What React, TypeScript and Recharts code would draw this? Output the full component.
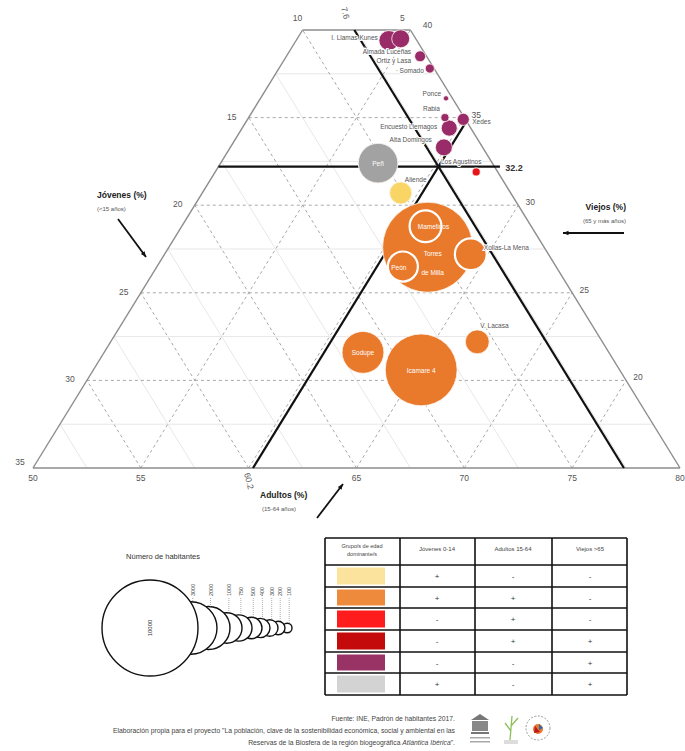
import React from "react";
import { ScatterChart, Scatter, XAxis, YAxis, ZAxis, ReferenceLine } from "recharts";

const FONT = '"Liberation Sans", Arial, sans-serif';

// localidades (orden de dibujo: de mayor a menor)
const localidades = [
  "Torres de Milla", "Icamare 4", "Peñ", "Sodupe", "Mamelinos", "Xollas-La Mena", "Peón",
  "V. Lacasa", "Aliende", "Llamas", "Kunes", "Almada Luceñas", "Alta Domingos",
  "Encuesto Liemagos", "Xedes", "Somado", "Rabia", "Los Agustinos", "Ponce",
];
const adultos = [62.0, 65.2, 57.3, 62.0, 61.3, 64.2, 61.4, 67.0, 59.2, 54.3, 54.8, 56.2, 59.9, 59.6, 60.0, 57.0, 59.1, 62.1, 58.6];
const viejos = [27.6, 20.6, 32.4, 21.6, 28.8, 27.2, 26.5, 22.2, 30.7, 39.4, 39.5, 38.5, 33.3, 34.4, 34.9, 37.8, 35.0, 31.9, 36.1];
const habitantes = [8800, 5600, 1700, 1900, 1100, 1100, 980, 620, 530, 430, 350, 130, 310, 280, 160, 90, 70, 70, 30];
const grupos = [
  "naranja", "naranja", "gris", "naranja", "naranja", "naranja", "naranja",
  "naranja", "amarillo", "morado", "morado", "morado", "morado",
  "morado", "morado", "morado", "morado", "rojo", "morado",
];

// umbrales (medias)
const umbralJovenes = 7.6;
const umbralAdultos = 60.2;
const umbralViejos = 32.2;

// etiquetas de los ejes
const ticksJovenes = [10, 15, 20, 25, 30, 35];
const ticksViejos = [40, 35, 30, 25, 20];
const ticksAdultos = [50, 55, 65, 70, 75, 80];

// leyenda
const leyendaHab = [10000, 3000, 2000, 1000, 750, 500, 400, 300, 200, 100];
const leyendaBordes = [198, 217, 230, 242, 252, 262, 270, 278, 285, 292];

// tabla
const tablaGrupos = ["amarillo", "naranja", "rojo", "granate", "morado", "gris"];
const tablaJovenes = ["+", "+", "-", "-", "-", "+"];
const tablaAdultos = ["-", "+", "+", "+", "-", "-"];
const tablaViejos = ["-", "-", "-", "+", "+", "+"];

const COLORES: Record<string, string> = {
  amarillo: "#f8d565",
  naranja: "#e97a2c",
  rojo: "#e8141a",
  granate: "#bf0d12",
  morado: "#9a2b69",
  gris: "#a2a2a2",
};
const TABLA_COLORES: Record<string, string> = {
  amarillo: "#fbe39e",
  naranja: "#ee8a3c",
  rojo: "#ff1c1c",
  granate: "#c40a0a",
  morado: "#993366",
  gris: "#d3d3d3",
};

const R_MAX = 48;
const CONTORNO_BLANCO = ["Mamelinos", "Xollas-La Mena", "Peón"];

const ETIQUETAS: Record<string, { lines: string[]; dx: number; dy: number; anchor: string; color: string; gap?: number }> = {
  "Torres de Milla": { lines: ["Torres", "de Milla"], dx: 5, dy: 9, anchor: "middle", color: "#fff", gap: 19 },
  "Icamare 4": { lines: ["Icamare 4"], dx: 0, dy: 3, anchor: "middle", color: "#fff" },
  "Peñ": { lines: ["Peñ"], dx: 0, dy: 3, anchor: "middle", color: "#fff" },
  "Sodupe": { lines: ["Sodupe"], dx: 0, dy: 3, anchor: "middle", color: "#fff" },
  "Mamelinos": { lines: ["Mamelinos"], dx: 8, dy: 3, anchor: "middle", color: "#fff" },
  "Peón": { lines: ["Peón"], dx: -4, dy: 3, anchor: "middle", color: "#fff" },
  "Xollas-La Mena": { lines: ["Xollas-La Mena"], dx: 13, dy: -4, anchor: "start", color: "#555" },
  "V. Lacasa": { lines: ["V. Lacasa"], dx: 3, dy: -14, anchor: "start", color: "#555" },
  "Aliende": { lines: ["Aliende"], dx: 15, dy: -11, anchor: "middle", color: "#555" },
  "Llamas": { lines: ["I. Llamas Kunes"], dx: -11, dy: -1, anchor: "end", color: "#555" },
  "Almada Luceñas": { lines: ["Almada Luceñas", "Ortiz y Lasa"], dx: -9, dy: -2, anchor: "end", color: "#555", gap: 9 },
  "Somado": { lines: ["· Somado"], dx: -6, dy: 4, anchor: "end", color: "#555" },
  "Ponce": { lines: ["Ponce"], dx: -5, dy: -2, anchor: "end", color: "#555" },
  "Rabia": { lines: ["Rabia"], dx: -5, dy: -7, anchor: "end", color: "#555" },
  "Encuesto Liemagos": { lines: ["Encuesto Liemagos"], dx: -12, dy: 1, anchor: "end", color: "#555" },
  "Alta Domingos": { lines: ["Alta Domingos"], dx: -12, dy: -5, anchor: "end", color: "#555" },
  "Xedes": { lines: ["Xedes"], dx: 9, dy: 5, anchor: "start", color: "#555" },
  "Los Agustinos": { lines: ["Los Agustinos"], dx: -15, dy: -8, anchor: "middle", color: "#555" },
};

// ternario -> cartesiano (u horizontal, v = % viejos)
const pt = (a: number, v: number) => ({ x: a + (v - 15) / 2, y: v });
const lineaV = (v: number) => [pt(50, v), pt(95 - v, v)];
const lineaA = (a: number) => (a <= 55 ? [pt(a, 15), pt(a, 40)] : [pt(a, 15), pt(a, 95 - a)]);
const lineaJ = (j: number) => (j >= 10 ? [pt(85 - j, 15), pt(50, 50 - j)] : [pt(85 - j, 15), pt(60 - j, 40)]);

const puntos = localidades.map((name, i) => ({
  name,
  hab: habitantes[i],
  grupo: grupos[i],
  u: pt(adultos[i], viejos[i]).x,
  v: viejos[i],
}));

const rango = (a: number, b: number, s: number) => {
  const out: number[] = [];
  for (let x = a; x <= b + 1e-9; x += s) out.push(x);
  return out;
};
const finas = rango(2.5, 40, 2.5).filter((x) => x % 5 !== 0);
const lineasFinas = [
  ...finas.filter((v) => v > 15 && v < 40).map(lineaV),
  ...finas.filter((a) => a > 50 && a < 80).map(lineaA),
  ...finas.filter((j) => j > 5 && j < 35).map(lineaJ),
];
const lineasDiscontinuas = [
  ...[20, 25, 30, 35].map(lineaV),
  ...[55, 60, 65, 70, 75].map(lineaA),
  ...[10, 15, 20, 25, 30].map(lineaJ),
];
const bordes = [lineaV(15), lineaV(40), lineaA(50), lineaJ(5)];

type Tick = { u: number; v: number; text: string; dx: number; dy: number; rot?: number; bold?: boolean; size?: number };
const ticks: Tick[] = [
  ...ticksJovenes.map((j, i) => {
    const p = pt(50, 50 - j);
    const dx = i === 0 ? -5 : i === ticksJovenes.length - 1 ? -13 : -17;
    const dy = i === 0 ? -9 : i === ticksJovenes.length - 1 ? -3 : 2;
    return { u: p.x, v: p.y, text: String(j), dx, dy };
  }),
  ...ticksViejos.map((v, i) => {
    const p = pt(95 - v, v);
    return { u: p.x, v: p.y, text: String(v), dx: i === 0 ? 17 : 12, dy: i === 0 ? -2 : 0 };
  }),
  ...ticksAdultos.map((a) => ({ u: pt(a, 15).x, v: 15, text: String(a), dx: 0, dy: 13 })),
  { u: pt(95 - 40, 40).x, v: 40, text: "5", dx: -8, dy: -9 },
  { u: pt(100 - umbralJovenes - 40, 40).x, v: 40, text: String(umbralJovenes), dx: -9, dy: -14, rot: 75 },
  { u: pt(umbralAdultos, 15).x, v: 15, text: String(umbralAdultos), dx: -4, dy: 16, rot: 75 },
  { u: pt(71.65 - (umbralViejos - 15) / 2, umbralViejos).x, v: umbralViejos, text: String(umbralViejos), dx: 14, dy: 4, bold: true, size: 9 },
];

const Burbuja = (props: any) => {
  const { cx, cy, width, payload } = props;
  if (cx == null || cy == null) return null;
  const r = (width || 0) / 2;
  const blanco = CONTORNO_BLANCO.includes(payload.name);
  return (
    <circle
      cx={cx}
      cy={cy}
      r={r}
      fill={COLORES[payload.grupo]}
      stroke={blanco ? "#fff" : "#fdf6f0"}
      strokeWidth={blanco ? 2.2 : 0.8}
    />
  );
};

const Etiqueta = (props: any) => {
  const { cx, cy, payload } = props;
  const e = ETIQUETAS[payload.name];
  if (!e || cx == null) return null;
  const dark = e.color !== "#fff";
  return (
    <text
      x={cx + e.dx}
      y={cy + e.dy}
      textAnchor={e.anchor as any}
      fontSize={6.5}
      fontFamily={FONT}
      fill={e.color}
      stroke={dark ? "#fff" : "none"}
      strokeWidth={dark ? 2 : 0}
      style={{ paintOrder: "stroke" }}
    >
      {e.lines.map((l, i) => (
        <tspan key={i} x={cx + e.dx} dy={i === 0 ? 0 : e.gap ?? 8}>
          {l}
        </tspan>
      ))}
    </text>
  );
};

const TickLabel = (props: any) => {
  const { cx, cy, payload } = props;
  if (cx == null) return null;
  const x = cx + payload.dx;
  const y = cy + payload.dy;
  return (
    <text
      x={x}
      y={y}
      textAnchor="middle"
      fontSize={payload.size ?? 8.5}
      fontWeight={payload.bold ? 700 : 400}
      fontFamily={FONT}
      fill={payload.bold ? "#333" : "#555"}
      transform={payload.rot ? `rotate(${payload.rot} ${x} ${y - 3})` : undefined}
    >
      {payload.text}
    </text>
  );
};

const Flecha = ({ x1, y1, x2, y2 }: { x1: number; y1: number; x2: number; y2: number }) => {
  const ang = Math.atan2(y2 - y1, x2 - x1);
  const h = 6;
  const p1 = [x2 - h * Math.cos(ang - 0.4), y2 - h * Math.sin(ang - 0.4)];
  const p2 = [x2 - h * Math.cos(ang + 0.4), y2 - h * Math.sin(ang + 0.4)];
  return (
    <g>
      <line x1={x1} y1={y1} x2={x2} y2={y2} stroke="#111" strokeWidth={1.8} />
      <polygon points={`${x2},${y2} ${p1[0]},${p1[1]} ${p2[0]},${p2[1]}`} fill="#111" />
    </g>
  );
};

const colX = [325, 400, 475, 552, 627];
const filaY = [538, 565, 587, 608, 630, 652, 673, 695];

export default function App() {
  const legR = leyendaHab.map((h) => R_MAX * Math.sqrt(h / 10000));
  const legCx = leyendaBordes.map((b, i) => b - legR[i]);
  const legCy = 628;
  return (
    <div style={{ position: "absolute", left: 0, top: 0, width: 685, height: 751, background: "#fff", fontFamily: FONT }}>
      <div style={{ position: "absolute", left: 0, top: 0 }}>
        <ScatterChart width={685} height={520} margin={{ top: 30, right: 5, left: 33, bottom: 52 }}>
          <XAxis type="number" dataKey="u" domain={[50, 80]} hide />
          <YAxis type="number" dataKey="v" domain={[15, 40]} hide />
          <ZAxis type="number" dataKey="hab" domain={[0, 10000]} range={[0, Math.PI * R_MAX * R_MAX]} />
          {lineasFinas.map((s, i) => (
            <ReferenceLine key={`f${i}`} segment={s} stroke="#e4e4e4" strokeWidth={0.9} ifOverflow="visible" />
          ))}
          {lineasDiscontinuas.map((s, i) => (
            <ReferenceLine key={`d${i}`} segment={s} stroke="#a8a8a8" strokeWidth={1} strokeDasharray="3 3" ifOverflow="visible" />
          ))}
          {bordes.map((s, i) => (
            <ReferenceLine key={`b${i}`} segment={s} stroke="#8c8c8c" strokeWidth={1.4} ifOverflow="visible" />
          ))}
          <ReferenceLine segment={[pt(50, umbralViejos), { x: 71.65, y: umbralViejos }]} stroke="#111" strokeWidth={2.2} ifOverflow="visible" />
          <ReferenceLine segment={lineaA(umbralAdultos)} stroke="#111" strokeWidth={2.2} ifOverflow="visible" />
          <ReferenceLine segment={lineaJ(umbralJovenes)} stroke="#111" strokeWidth={2.2} ifOverflow="visible" />
          <Scatter data={puntos} shape={<Burbuja />} isAnimationActive={false} />
          <Scatter data={puntos} shape={<Etiqueta />} isAnimationActive={false} />
          <Scatter data={ticks} shape={<TickLabel />} isAnimationActive={false} />
        </ScatterChart>
      </div>
      <svg width={685} height={751} fontFamily={FONT} style={{ position: "absolute", left: 0, top: 0, pointerEvents: "none" }}>
        {/* títulos de ejes */}
        <text x={97} y={198} fontSize={8.5} fontWeight={700} fill="#222">Jóvenes (%)</text>
        <text x={97} y={211} fontSize={6} fill="#555">(&lt;15 años)</text>
        <Flecha x1={118} y1={219} x2={146} y2={257} />
        <text x={626} y={210} fontSize={8.5} fontWeight={700} fill="#222" textAnchor="end">Viejos (%)</text>
        <text x={626} y={223} fontSize={6} fill="#555" textAnchor="end">(65 y más años)</text>
        <Flecha x1={624} y1={233} x2={563} y2={233} />
        <text x={260} y={498} fontSize={8.5} fontWeight={700} fill="#222">Adultos (%)</text>
        <text x={262} y={511} fontSize={6} fill="#555">(15-64 años)</text>
        <Flecha x1={317} y1={518} x2={343} y2={484} />

        {/* leyenda de tamaños */}
        <text x={163} y={559} fontSize={7.5} fill="#333" textAnchor="middle">Número de habitantes</text>
        {leyendaHab
          .map((h, i) => i)
          .reverse()
          .map((i) => (
            <circle key={i} cx={legCx[i]} cy={legCy} r={legR[i]} fill="#fff" stroke="#111" strokeWidth={1.4} />
          ))}
        <text x={152} y={legCy} fontSize={6} fill="#333" textAnchor="middle" transform={`rotate(-90 152 ${legCy})`}>
          {leyendaHab[0]}
        </text>
        {leyendaHab.slice(1).map((h, k) => {
          const i = k + 1;
          const x = legCx[i] + 2;
          return (
            <g key={h}>
              <line x1={x} y1={598} x2={x} y2={legCy - legR[i]} stroke="#777" strokeWidth={0.6} strokeDasharray="1 1" />
              <text x={x + 2} y={596} fontSize={5.5} fill="#444" transform={`rotate(-90 ${x + 2} 596)`}>
                {h}
              </text>
            </g>
          );
        })}

        {/* tabla de grupos */}
        {tablaGrupos.map((g, i) => (
          <rect key={g} x={337} y={filaY[i + 1] + 2.5} width={48} height={filaY[i + 2] - filaY[i + 1] - 5} fill={TABLA_COLORES[g]} />
        ))}
        {filaY.map((y, i) => (
          <line key={`h${i}`} x1={colX[0]} y1={y} x2={colX[4]} y2={y} stroke="#111" strokeWidth={1.6} />
        ))}
        {colX.map((x, i) => (
          <line key={`v${i}`} x1={x} y1={filaY[0]} x2={x} y2={filaY[7]} stroke="#111" strokeWidth={1.6} />
        ))}
        <text x={362} y={548} fontSize={5.5} fill="#444" textAnchor="middle">Grupo/s de edad</text>
        <text x={362} y={556} fontSize={5.5} fill="#444" textAnchor="middle">dominante/s</text>
        <text x={437} y={551} fontSize={6} fill="#444" textAnchor="middle">Jóvenes 0-14</text>
        <text x={513} y={551} fontSize={6} fill="#444" textAnchor="middle">Adultos 15-64</text>
        <text x={590} y={551} fontSize={6} fill="#444" textAnchor="middle">Viejos &gt;65</text>
        {tablaGrupos.map((g, i) => {
          const y = (filaY[i + 1] + filaY[i + 2]) / 2 + 3;
          return (
            <g key={`s${g}`} fontSize={8} fill="#333" textAnchor="middle">
              <text x={437} y={y}>{tablaJovenes[i]}</text>
              <text x={513} y={y}>{tablaAdultos[i]}</text>
              <text x={590} y={y}>{tablaViejos[i]}</text>
            </g>
          );
        })}

        {/* fuente */}
        <g fontSize={6.8} fill="#444" textAnchor="end">
          <text x={455} y={721}>Fuente: INE, Padrón de habitantes 2017.</text>
          <text x={455} y={733}>Elaboración propia para el proyecto "La población, clave de la sostenibilidad económica, social y ambiental en las</text>
          <text x={455} y={745}>
            Reservas de la Biosfera de la región biogeográfica <tspan fontStyle="italic">Atlántica Ibérica</tspan>".
          </text>
        </g>
        {/* logos */}
        <g>
          <polygon points="471,720 480,714 489,720" fill="#777" />
          <rect x={472} y={721} width={16} height={10} fill="#888" />
          <rect x={471} y={732} width={18} height={2} fill="#777" />
          <rect x={470} y={737} width={20} height={1.5} fill="#aaa" />
          <rect x={470} y={741} width={20} height={1.5} fill="#aaa" />
          <path d="M510 740 L512 716 M511 726 L518 718 M511 731 L505 723" stroke="#8cbf5a" strokeWidth={1.3} fill="none" />
          <rect x={504} y={740} width={14} height={4} fill="#ddd" />
          <circle cx={538} cy={728} r={12} fill="#fff" stroke="#999" strokeWidth={1} strokeDasharray="2 1.5" />
          <circle cx={538} cy={729} r={5} fill="#e8782a" />
          <path d="M535 726 L540 732 L534 733 Z" fill="#c0181c" />
          <path d="M539 724 L543 728 L539 730 Z" fill="#2a6bb0" />
        </g>
      </svg>
    </div>
  );
}
